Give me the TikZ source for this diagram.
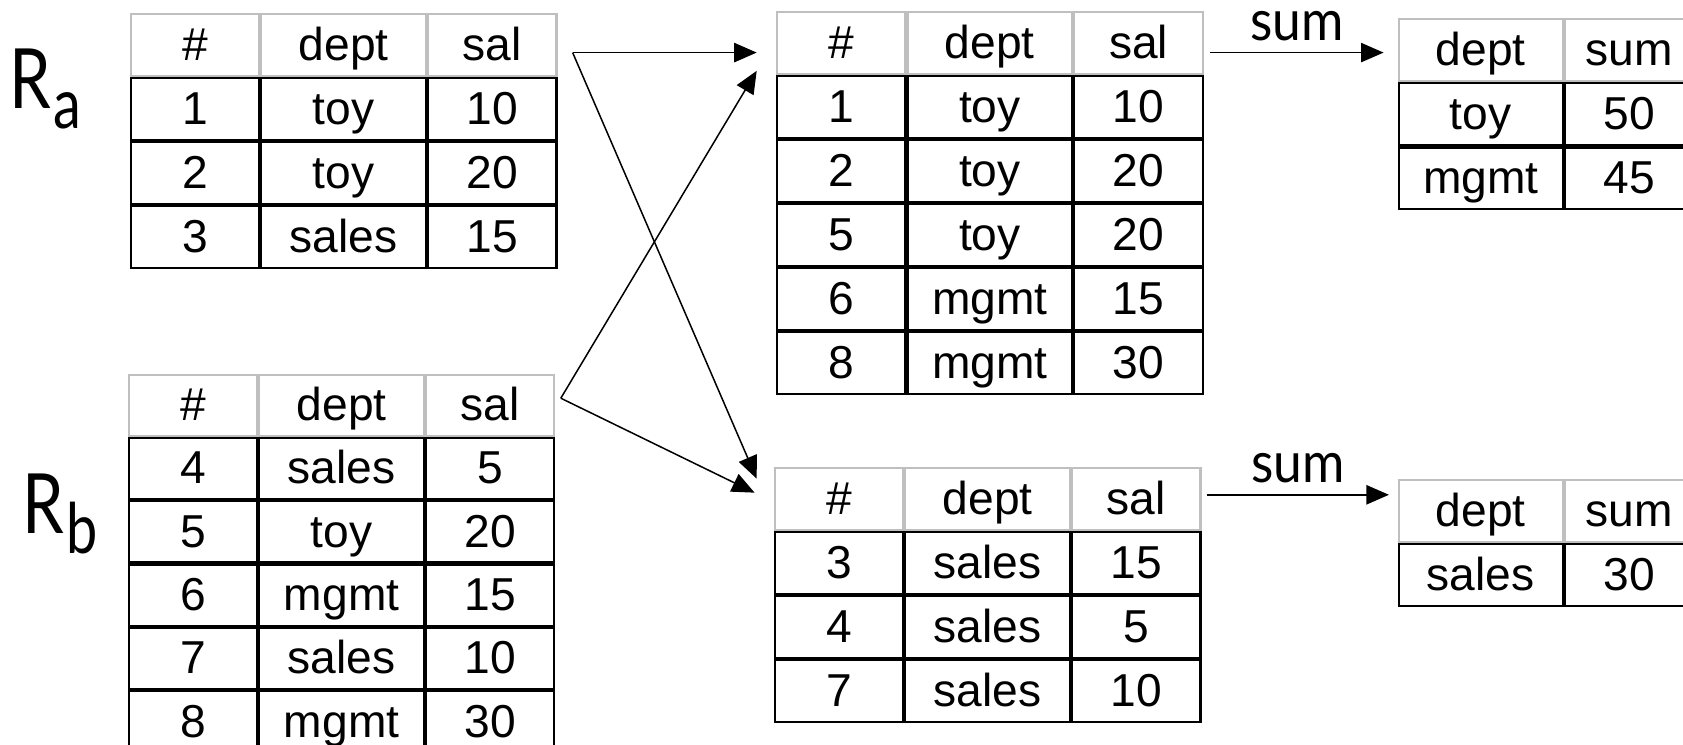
\documentclass[tikz,border=0pt]{standalone}
\usepackage{fontspec}
\setmainfont{Liberation Sans}
\newfontfamily\lightfont{Lato}
\usepackage{graphicx}
\usepackage{tikz}
\usetikzlibrary{calc,matrix,arrows.meta}
\def\drawflow{\draw[-{Triangle[length=10.5pt,width=9pt]}, line width=0.7pt]}
\def\relname#1{\scalebox{1}[1.25]{\lightfont\fontsize{31}{31}\selectfont R\hspace{1pt}\raisebox{-7.5pt}{\fontsize{26}{26}\selectfont #1}}}
\def\opname#1{\scalebox{1}[1.1]{\lightfont\fontsize{24}{24}\selectfont #1}}
\tikzset{
  reltab/.style={matrix of nodes, anchor=north west, inner sep=0pt, outer sep=0pt,
    row sep=0pt, column sep=0pt,
    nodes={draw=black, line width=1pt, inner sep=0pt, outer sep=0pt,
      minimum height=28.85pt, text height=15.4pt, text depth=1pt},
    row 1/.style={nodes={draw=black!25}},
    column 1/.style={nodes={minimum width=59.75pt}},
    column 2/.style={nodes={minimum width=76.75pt}},
    column 3/.style={nodes={minimum width=59.75pt}}},
  sumtab/.style={reltab,
    column 1/.style={nodes={minimum width=76.5pt}},
    column 2/.style={nodes={minimum width=60pt}}}
}

\begin{document}
\begin{tikzpicture}[x=0.5pt,y=-0.5pt,font=\fontsize{21.5}{24}\selectfont]
\useasboundingbox (0,0) rectangle (1568,694);
\node[anchor=base west, inner sep=0pt] (namea) at (8.5,101) {\relname{a}};
\node[anchor=base west, inner sep=0pt] (nameb) at (20.5,497) {\relname{b}};
\matrix (ra) [reltab] at (121,12) {
  \# & dept & sal \\
  1 & toy & 10 \\
  2 & toy & 20 \\
  3 & sales & 15 \\
};
\matrix (rb) [reltab, nodes={minimum height=28.5pt}] at (119,348) {
  \# & dept & sal \\
  4 & sales & 5 \\
  5 & toy & 20 \\
  6 & mgmt & 15 \\
  7 & sales & 10 \\
  8 & mgmt & 30 \\
};
\matrix (bucket1) [reltab] at (723,10) {
  \# & dept & sal \\
  1 & toy & 10 \\
  2 & toy & 20 \\
  5 & toy & 20 \\
  6 & mgmt & 15 \\
  8 & mgmt & 30 \\
};
\matrix (bucket2) [reltab] at (721,435) {
  \# & dept & sal \\
  3 & sales & 15 \\
  4 & sales & 5 \\
  7 & sales & 10 \\
};
\matrix (sum1) [sumtab] at (1302,17) {
  dept & sum \\
  toy & 50 \\
  mgmt & 45 \\
};
\matrix (sum2) [sumtab] at (1302,446) {
  dept & sum \\
  sales & 30 \\
};
\coordinate (raout) at ($(ra.north east)+(14,37)$);
\coordinate (rbout) at ($(rb.north east)+(5,23)$);
\coordinate (b1top) at ($(bucket1.north west)+(-18,39)$);
\coordinate (b1low) at ($(bucket1.north west)+(-18,56)$);
\coordinate (b2top) at ($(bucket2.north west)+(-16,11)$);
\coordinate (b2low) at ($(bucket2.north west)+(-18,24)$);
\coordinate (b1out) at ($(bucket1.north east)+(6,39)$);
\coordinate (b2out) at ($(bucket2.north east)+(5,26)$);
\coordinate (s1in) at ($(sum1.north west)+(-13,32)$);
\coordinate (s2in) at ($(sum2.north west)+(-8,15)$);
\drawflow (raout) -- (b1top);
\drawflow (raout) -- (b2top);
\drawflow (rbout) -- (b1low);
\drawflow (rbout) -- (b2low);
\drawflow (b1out) -- node[midway, above=5pt, inner sep=0pt] (op1) {\opname{sum}} (s1in);
\drawflow (b2out) -- node[midway, above=5pt, inner sep=0pt] (op2) {\opname{sum}} (s2in);
\end{tikzpicture}
\end{document}
